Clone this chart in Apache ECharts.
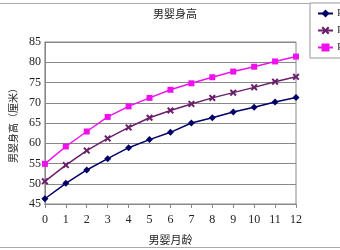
<!DOCTYPE html>
<html><head><meta charset="utf-8">
<script src="https://cdn.jsdelivr.net/npm/echarts@6/dist/echarts.min.js"></script>
<style>html,body{margin:0;padding:0;background:#fff}#c{width:340px;height:250px}</style>
</head><body><div id="c"></div>
<script>
const months = ['0','1','2','3','4','5','6','7','8','9','10','11','12'];
const seriesNames = ['P3', 'P50', 'P97'];
const p3 = [46.3, 50.1, 53.4, 56.2, 58.9, 60.9, 62.7, 65.0, 66.3, 67.7, 68.9, 70.2, 71.3];
const p50 = [50.6, 54.6, 58.2, 61.2, 63.9, 66.3, 68.1, 69.7, 71.2, 72.5, 73.8, 75.2, 76.4];
const p97 = [54.9, 59.2, 62.9, 66.5, 69.1, 71.2, 73.2, 74.8, 76.3, 77.7, 78.9, 80.2, 81.4];
const titleText = '男婴身高';
const xName = '男婴月龄';
const yName = '男婴身高（厘米）';

const serif = '"Liberation Serif", "Noto Sans CJK SC", serif';
const cjk = '"Noto Sans CJK SC", sans-serif';
const xMark = 'path://M0,2L2,0L5,3L8,0L10,2L7,5L10,8L8,10L5,7L2,10L0,8L3,5Z';

const chart = echarts.init(document.getElementById('c'), null, {renderer: 'canvas'});
chart.setOption({
  animation: false,
  backgroundColor: '#fff',
  title: {text: titleText, left: 153, top: 8, padding: 0,
    textStyle: {fontFamily: cjk, fontSize: 11, fontWeight: 'normal', color: '#222'}},
  legend: {
    orient: 'vertical', left: 310, top: 3, padding: [5, 20, 5, 7],
    itemWidth: 15, itemHeight: 10, itemGap: 6,
    borderColor: '#999', borderWidth: 1, backgroundColor: '#fff',
    textStyle: {fontFamily: serif, fontSize: 11, color: '#333', padding: [0, 0, 0, -1]},
    data: seriesNames
  },
  grid: {left: 27, right: 44, top: 42, bottom: 44, show: true, borderColor: '#888', borderWidth: 1},
  xAxis: {
    type: 'category', data: months, boundaryGap: false,
    name: xName, nameLocation: 'middle', nameGap: 30,
    nameTextStyle: {fontFamily: cjk, fontSize: 11, color: '#222'},
    axisLine: {lineStyle: {color: '#888'}},
    axisTick: {show: true, length: 4, lineStyle: {color: '#888'}},
    axisLabel: {fontFamily: serif, fontSize: 12, color: '#222', margin: 10},
    splitLine: {show: false}
  },
  yAxis: {
    type: 'value', min: 45, max: 85, interval: 5,
    name: yName, nameLocation: 'middle', nameGap: 19, nameRotate: 90,
    nameTextStyle: {fontFamily: cjk, fontSize: 10, color: '#222'},
    axisLine: {show: true, lineStyle: {color: '#888'}},
    axisTick: {show: false},
    axisLabel: {fontFamily: serif, fontSize: 12, color: '#222', margin: 4},
    splitLine: {lineStyle: {color: '#888', width: 1}}
  },
  graphic: [
    {type: 'line', shape: {x1: 0, y1: 3.5, x2: 310, y2: 3.5}, style: {stroke: '#aaa', lineWidth: 1}},
    {type: 'line', shape: {x1: 0, y1: 247.5, x2: 340, y2: 247.5}, style: {stroke: '#aaa', lineWidth: 1}}
  ],
  series: [
    {name: seriesNames[0], type: 'line', data: p3, symbol: 'diamond', symbolSize: 7,
      itemStyle: {color: '#000066'}, lineStyle: {color: '#000066', width: 1.5}},
    {name: seriesNames[1], type: 'line', data: p50, symbol: xMark, symbolSize: 7,
      itemStyle: {color: '#6a1f6a'}, lineStyle: {color: '#6a1f6a', width: 1.5}},
    {name: seriesNames[2], type: 'line', data: p97, symbol: 'rect', symbolSize: 6,
      itemStyle: {color: '#ee11ee'}, lineStyle: {color: '#ee11ee', width: 1.5}}
  ]
});
</script></body></html>
